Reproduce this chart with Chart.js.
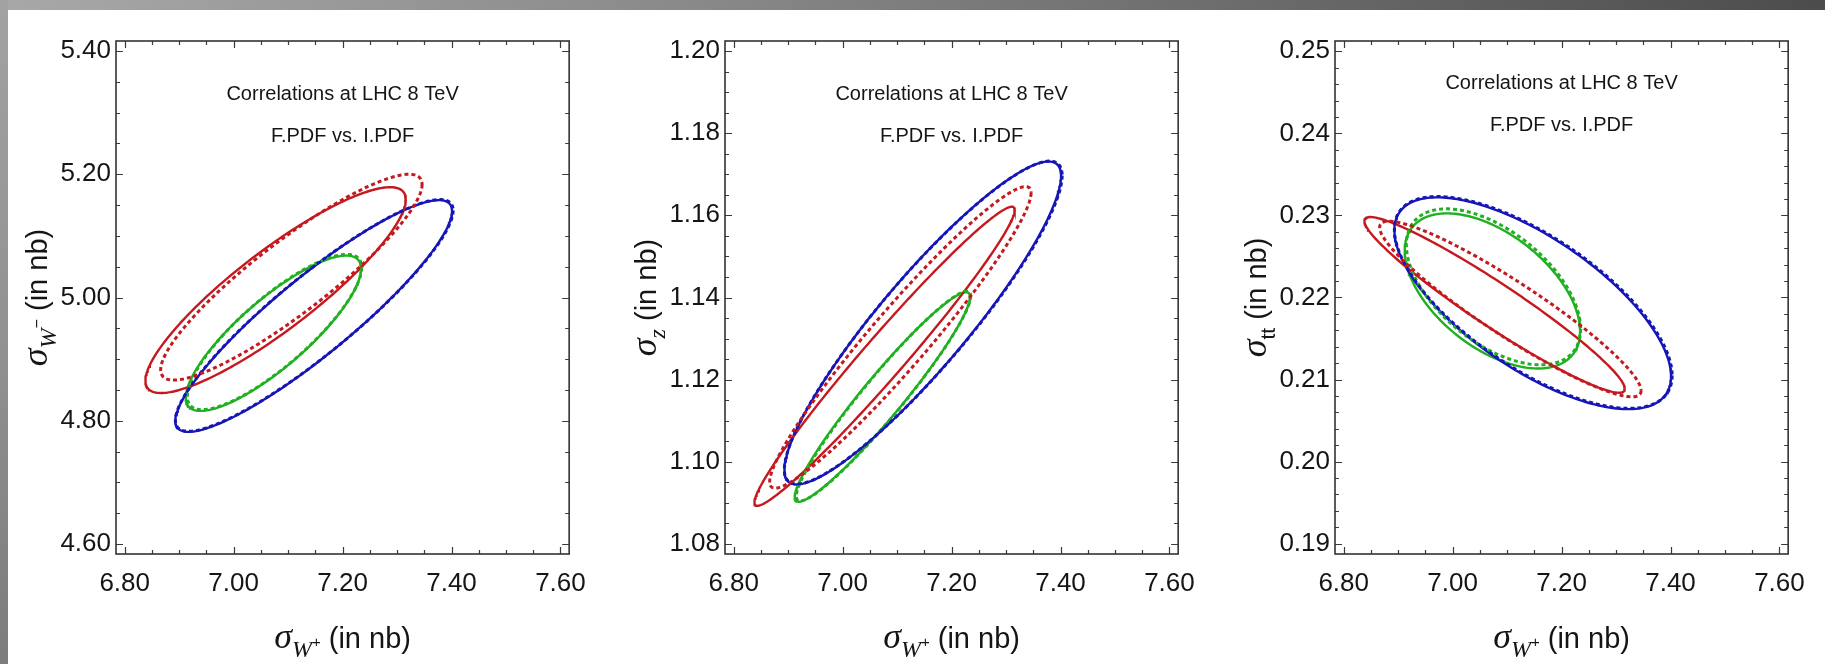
<!DOCTYPE html>
<html>
<head>
<meta charset="utf-8">
<script src="https://cdn.jsdelivr.net/npm/chart.js@4.4.1/dist/chart.umd.min.js"></script>
<style>
    html, body { margin: 0; padding: 0; background: #fff; }
    #page { position: relative; width: 1825px; height: 664px; overflow: hidden; background: #fff; }
    #topbar { position: absolute; left: 0; top: 0; width: 1825px; height: 10px;
              background: linear-gradient(to right, #a8a8a8 0%, #8c8c8c 35%, #6a6a6a 70%, #4c4c4c 100%); }
    #leftbar { position: absolute; left: 0; top: 0; width: 8px; height: 664px;
               background: linear-gradient(to bottom, #a2a2a2 0%, #929292 50%, #7c7c7c 100%); }
    canvas { position: absolute; top: 0; }
</style>
</head>
<body>
<div id="page">
    <div id="topbar"></div>
    <div id="leftbar"></div>
    <canvas id="panelW" width="600" height="664" style="left:0px"></canvas>
    <canvas id="panelZ" width="600" height="664" style="left:609px"></canvas>
    <canvas id="panelTT" width="600" height="664" style="left:1219px"></canvas>
</div>
<script>
// PDF sets, in drawing colour order. F.PDF is drawn solid, I.PDF dotted.
const pdfSets = ['red', 'blue', 'green'];

// sigma(W+) centre and half-width (nb), shared by all three panels
const wPlusMidF = [7.077, 7.147, 7.073];
const wPlusErrF = [0.239, 0.254, 0.161];
const wPlusMidI = [7.106, 7.148, 7.075];
const wPlusErrI = [0.240, 0.255, 0.160];

// sigma(W-) centre, half-width and correlation with sigma(W+)
const wMinusMidF = [5.012, 4.970, 4.942];
const wMinusErrF = [0.167, 0.188, 0.126];
const wMinusRhoF = [0.88, 0.905, 0.83];
const wMinusMidI = [5.033, 4.971, 4.944];
const wMinusErrI = [0.167, 0.188, 0.126];
const wMinusRhoI = [0.90, 0.905, 0.83];

// sigma(Z)
const zMidF = [1.1257, 1.1338, 1.1158];
const zErrF = [0.0364, 0.0393, 0.0255];
const zRhoF = [0.978, 0.91, 0.955];
const zMidI = [1.1303, 1.1339, 1.1160];
const zErrI = [0.0367, 0.0393, 0.0255];
const zRhoI = [0.958, 0.91, 0.955];

// sigma(tt)
const ttMidF = [0.2191, 0.2193, 0.2208];
const ttErrF = [0.0107, 0.0129, 0.00945];
const ttRhoF = [-0.955, -0.69, -0.52];
const ttMidI = [0.2186, 0.2194, 0.2213];
const ttErrI = [0.0107, 0.0129, 0.0095];
const ttRhoI = [-0.93, -0.69, -0.54];

// axis ticks
const xTicks = [6.80, 7.00, 7.20, 7.40, 7.60];
const wMinusTicks = [4.60, 4.80, 5.00, 5.20, 5.40];
const zTicks = [1.08, 1.10, 1.12, 1.14, 1.16, 1.18, 1.20];
const ttTicks = [0.19, 0.20, 0.21, 0.22, 0.23, 0.24, 0.25];

const noteLines = ['Correlations at LHC 8 TeV', 'F.PDF vs. I.PDF'];

const lineColors = { red: '#c41a1f', blue: '#1616b8', green: '#20b020' };
const serif = '"Liberation Serif", "Times New Roman", serif';
const sans = '"Liberation Sans", Arial, sans-serif';

// correlation ellipse: x = x0 + dx cos t, y = y0 + dy cos(t + acos(rho))
function ellipsePoints(x0, dx, y0, dy, rho) {
    const phi = Math.acos(rho);
    const pts = [];
    const n = 240;
    for (let k = 0; k <= n; k++) {
        const t = 2 * Math.PI * k / n;
        pts.push({ x: x0 + dx * Math.cos(t), y: y0 + dy * Math.cos(t + phi) });
    }
    return pts;
}

function buildDatasets(midF, errF, rhoF, midI, errI, rhoI) {
    const sets = [];
    pdfSets.forEach((name, i) => {
        sets.push({
            label: name + ' F.PDF',
            data: ellipsePoints(wPlusMidF[i], wPlusErrF[i], midF[i], errF[i], rhoF[i]),
            borderColor: lineColors[name],
            borderWidth: 2.4,
            order: 10 + i
        });
        sets.push({
            label: name + ' I.PDF',
            data: ellipsePoints(wPlusMidI[i], wPlusErrI[i], midI[i], errI[i], rhoI[i]),
            borderColor: lineColors[name],
            borderWidth: 3,
            borderDash: [4, 3],
            order: i
        });
    });
    sets.forEach(s => {
        s.showLine = true;
        s.pointRadius = 0;
        s.fill = false;
        s.tension = 0;
    });
    return sets;
}

// draws a run of differently styled text pieces centred on (x, y)
function drawRich(ctx, runs, x, y, angle) {
    ctx.save();
    ctx.translate(x, y);
    ctx.rotate(angle);
    ctx.textBaseline = 'alphabetic';
    ctx.textAlign = 'left';
    ctx.fillStyle = '#151515';
    let total = 0;
    runs.forEach(r => { ctx.font = r.font; r.w = ctx.measureText(r.text).width; total += r.w; });
    let cx = -total / 2;
    runs.forEach(r => {
        ctx.font = r.font;
        ctx.fillText(r.text, cx, r.dy);
        cx += r.w;
    });
    ctx.restore();
}

function minorValues(min, max, step) {
    const out = [];
    for (let v = Math.ceil(min / step - 1e-9) * step; v <= max + 1e-9; v += step) out.push(v);
    return out;
}

const framePlugin = {
    id: 'frame',
    afterDraw(chart, args, opts) {
        const ctx = chart.ctx;
        const a = chart.chartArea;
        const xs = chart.scales.x;
        const ys = chart.scales.y;
        ctx.save();
        ctx.strokeStyle = '#3a3a3a';
        ctx.lineWidth = 1.2;
        ctx.beginPath();
        const tick = (v, len, horiz) => {
            if (horiz) {
                const p = Math.round(xs.getPixelForValue(v)) + 0.5;
                ctx.moveTo(p, a.bottom); ctx.lineTo(p, a.bottom - len);
                ctx.moveTo(p, a.top); ctx.lineTo(p, a.top + len);
            } else {
                const p = Math.round(ys.getPixelForValue(v)) + 0.5;
                ctx.moveTo(a.left, p); ctx.lineTo(a.left + len, p);
                ctx.moveTo(a.right, p); ctx.lineTo(a.right - len, p);
            }
        };
        minorValues(xs.min, xs.max, 0.05).forEach(v => tick(v, 4, true));
        xTicks.forEach(v => tick(v, 7, true));
        minorValues(ys.min, ys.max, opts.yMinor).forEach(v => tick(v, 4, false));
        opts.yTicks.forEach(v => tick(v, 7, false));
        ctx.stroke();

        ctx.lineWidth = 1.6;
        ctx.strokeStyle = '#333';
        ctx.strokeRect(a.left, a.top, a.right - a.left, a.bottom - a.top);

        // notes inside the frame
        const midX = (a.left + a.right) / 2;
        ctx.fillStyle = '#151515';
        ctx.font = '20px ' + sans;
        ctx.textAlign = 'center';
        ctx.textBaseline = 'middle';
        ctx.fillText(noteLines[0], midX, a.top + opts.noteTop);
        ctx.fillText(noteLines[1], midX, a.top + opts.noteTop + 42);

        // axis titles
        drawRich(ctx, [
            { text: 'σ', font: 'italic 36px ' + serif, dy: 0 },
            { text: 'W', font: 'italic 24px ' + serif, dy: 9 },
            { text: '+', font: '15px ' + sans, dy: -1 },
            { text: ' (in nb)', font: '29px ' + sans, dy: 0 }
        ], midX, 648, 0);
        drawRich(ctx, opts.yTitle, 47, (a.top + a.bottom) / 2, -Math.PI / 2);
        ctx.restore();
    }
};

function makePanel(id, datasets, yMin, yMax, yTicks, yMinor, yTitle, noteTop) {
    return new Chart(document.getElementById(id), {
        type: 'scatter',
        data: { datasets: datasets },
        options: {
            responsive: false,
            animation: false,
            devicePixelRatio: 1,
            layout: { padding: { top: 41, right: 13, left: 0, bottom: 0 } },
            plugins: {
                legend: { display: false },
                tooltip: { enabled: false },
                frame: { yTicks: yTicks, yMinor: yMinor, yTitle: yTitle, noteTop: noteTop }
            },
            scales: {
                x: {
                    type: 'linear',
                    min: 6.784,
                    max: 7.616,
                    grid: { display: false, drawTicks: false },
                    border: { display: false },
                    afterFit: s => { s.height = 110; },
                    afterBuildTicks: s => { s.ticks = xTicks.map(v => ({ value: v })); },
                    ticks: {
                        autoSkip: false,
                        maxRotation: 0,
                        padding: 14,
                        color: '#151515',
                        font: { family: sans, size: 26 },
                        callback: v => v.toFixed(2)
                    }
                },
                y: {
                    type: 'linear',
                    min: yMin,
                    max: yMax,
                    grid: { display: false, drawTicks: false },
                    border: { display: false },
                    afterFit: s => { s.width = 116; },
                    afterBuildTicks: s => { s.ticks = yTicks.map(v => ({ value: v })); },
                    ticks: {
                        autoSkip: false,
                        padding: 5,
                        color: '#151515',
                        font: { family: sans, size: 26 },
                        callback: v => v.toFixed(2)
                    }
                }
            }
        },
        plugins: [framePlugin]
    });
}

const yLabelTail = { text: ' (in nb)', font: '29px ' + sans, dy: 0 };

makePanel('panelW',
    buildDatasets(wMinusMidF, wMinusErrF, wMinusRhoF, wMinusMidI, wMinusErrI, wMinusRhoI),
    4.5838, 5.4162, wMinusTicks, 0.05,
    [{ text: 'σ', font: 'italic 36px ' + serif, dy: 0 },
     { text: 'W', font: 'italic 24px ' + serif, dy: 9 },
     { text: '−', font: '16px ' + sans, dy: -5 },
     yLabelTail],
    53);

makePanel('panelZ',
    buildDatasets(zMidF, zErrF, zRhoF, zMidI, zErrI, zRhoI),
    1.07757, 1.20243, zTicks, 0.005,
    [{ text: 'σ', font: 'italic 36px ' + serif, dy: 0 },
     { text: 'z', font: 'italic 24px ' + serif, dy: 9 },
     yLabelTail],
    53);

makePanel('panelTT',
    buildDatasets(ttMidF, ttErrF, ttRhoF, ttMidI, ttErrI, ttRhoI),
    0.18875, 0.25125, ttTicks, 0.002,
    [{ text: 'σ', font: 'italic 36px ' + serif, dy: 0 },
     { text: 'tt', font: '21px ' + sans, dy: 9 },
     yLabelTail],
    42);
</script>
</body>
</html>
